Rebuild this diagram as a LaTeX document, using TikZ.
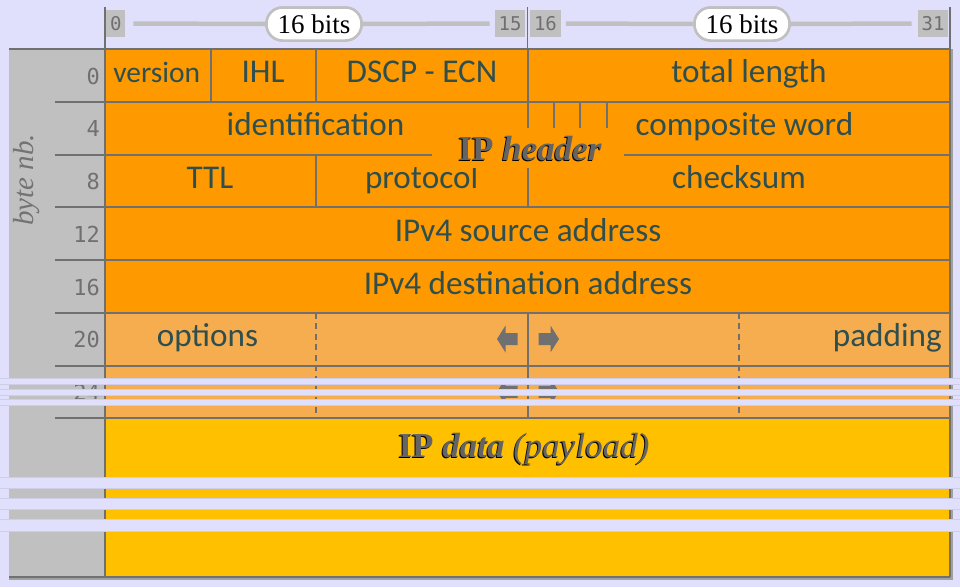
\documentclass[tikz,border=0pt]{standalone}
\usepackage{fontspec}
\setmainfont{Liberation Serif}
\newfontfamily\fieldfont{Carlito}
\newfontfamily\monofont{DejaVu Sans Mono}
\usetikzlibrary{calc}
\definecolor{bgc}{RGB}{224,224,252}
\definecolor{hdrc}{RGB}{255,153,0}
\definecolor{optc}{RGB}{245,173,80}
\definecolor{datac}{RGB}{255,192,0}
\definecolor{colc}{RGB}{192,192,192}
\definecolor{linec}{RGB}{112,112,112}
\definecolor{txtc}{RGB}{47,79,79}
\definecolor{titc}{RGB}{100,100,100}
\definecolor{shadowc}{RGB}{160,160,160}
\begin{document}
\begin{tikzpicture}[x=1pt,y=-1pt,
  grid/.style={draw=linec, line width=2pt},
  dgrid/.style={draw=linec, line width=2.2pt, dash pattern=on 6pt off 4.5pt},
  field/.style={font=\fieldfont\fontsize{33.2}{38}\selectfont, text=txtc, anchor=base, inner sep=0pt},
  rowlbl/.style={font=\monofont\fontsize{22}{26}\selectfont, text=linec, anchor=east, inner sep=0pt},
  bitlbl/.style={font=\monofont\fontsize{19}{22}\selectfont, text=linec, fill=colc, inner xsep=3.8pt, inner ysep=0pt, minimum height=27pt},
  pill/.style={draw=colc, line width=2.5pt, fill=white, rounded corners=16pt, minimum width=95pt, minimum height=33pt, inner sep=0pt, font=\fontsize{27}{30}\selectfont},
  bitline/.style={draw=colc, line width=4.5pt},
  stripe/.style={fill=bgc, draw=bgc!92!black, line width=0.6pt},
  title/.style={font=\fontsize{35}{40}\selectfont, anchor=base, inner sep=0pt},
  arrowshape/.style={fill=linec},
]
% background
\fill[bgc] (0,0) rectangle (960,587);
\useasboundingbox (0,0) rectangle (960,587);

% header bit lines
\draw[linec, line width=1.5pt] (105,7) -- (105,49);
\draw[linec, line width=1.5pt] (527.5,7) -- (527.5,49);
\draw[linec, line width=1.5pt] (950,7) -- (950,49);

\node[bitlbl, anchor=west] (b0) at (106,23.5) {0};
\node[bitlbl, anchor=east] (b15) at (525.5,23.5) {15};
\node[bitlbl, anchor=west] (b16) at (530,23.5) {16};
\node[bitlbl, anchor=east] (b31) at (948.5,23.5) {31};
\node[pill] (pillL) at (314,24) {16 bits};
\node[pill] (pillR) at (742,24) {16 bits};
\draw[bitline] ([xshift=8pt]b0.east) -- (pillL.west);
\draw[bitline] (pillL.east) -- ([xshift=-5pt]b15.west);
\draw[bitline] ([xshift=5pt]b16.east) -- (pillR.west);
\draw[bitline] (pillR.east) -- ([xshift=-6pt]b31.west);
\node[pill] (pillL2) at (314,24) {16 bits};
\node[pill] (pillR2) at (742,24) {16 bits};

% shadow and fills
\fill[shadowc] (9,49) rectangle (953,580);
\fill[colc] (9,49) rectangle (105,577);
\fill[hdrc] (105,49) rectangle (950,312.75);
\fill[optc] (105,312.75) rectangle (950,418.25);
\fill[datac] (105,418.25) rectangle (950,577);

% horizontal grid
\draw[grid] (9,49) -- (950,49);
\foreach \y in {101.75,154.5,207.25,260,312.75,365.5,418.25}
  \draw[grid] (55,\y) -- (950,\y);
\draw[grid] (9,577) -- (950,577);
% outer verticals
\draw[grid] (105,49) -- (105,577);
\draw[grid] (950,49) -- (950,577);
% field separators
\draw[grid] (210.6,49) -- (210.6,101.75);
\draw[grid] (316.25,49) -- (316.25,101.75);
\draw[grid] (527.5,49) -- (527.5,154.5);
\foreach \x in {553.9,580.3,606.7}
  \draw[grid] (\x,101.75) -- (\x,128);
\draw[grid] (316.25,154.5) -- (316.25,207.25);
\draw[grid] (527.5,154.5) -- (527.5,207.25);
\draw[grid] (527.5,312.75) -- (527.5,418.25);
\draw[dgrid] (316.25,312.75) -- (316.25,418.25);
\draw[dgrid] (738.75,312.75) -- (738.75,418.25);

% field texts
\node[field, font=\fieldfont\fontsize{29.5}{34}\selectfont] (fver) at (156.7,82.5) {version};
\node[field] (fihl) at (263,82.5) {IHL};
\node[field] (fdscp) at (422,82.5) {DSCP - ECN};
\node[field] (ftot) at (749,82.5) {total length};
\node[field] (fid) at (315.5,135.5) {identification};
\node[field] (fcomp) at (744.5,135.5) {composite word};
\node[field] (fttl) at (210,188.5) {TTL};
\node[field] (fproto) at (421.6,188.5) {protocol};
\node[field] (fchk) at (739,188.5) {checksum};
\node[field] (fsrc) at (528,241.5) {IPv4 source address};
\node[field] (fdst) at (528,294.5) {IPv4 destination address};
\node[field] (fopt) at (207.5,346.5) {options};
\node[field, anchor=base east] (fpad) at (942,346.5) {padding};

% arrows
\foreach \c in {339,391.75}{
  \fill[arrowshape] (497,\c) -- (505.5,\c-13.5) -- (505.5,\c-6) -- (517.5,\c-6) -- (517.5,\c+6) -- (505.5,\c+6) -- (505.5,\c+13.5) -- cycle;
  \fill[arrowshape] (559,\c) -- (550.5,\c-13.5) -- (550.5,\c-6) -- (538.5,\c-6) -- (538.5,\c+6) -- (550.5,\c+6) -- (550.5,\c+13.5) -- cycle;
}

% IP header label
\node[fill=hdrc, minimum width=192pt, minimum height=40pt, inner sep=0pt] (hdrbg) at (528,148) {};
\node[title, text=black] (hdrsh) at (529,161) {\bfseries IP \itshape header};
\node[title, text=titc] (hdr) at (530,160) {\bfseries IP \itshape header};

% IP data label
\node[title, text=black] (datash) at (523,458) {\textbf{IP} \textbf{\textit{data}} \textit{(payload)}};
\node[title, text=titc] (data) at (524,457) {\textbf{IP} \textbf{\textit{data}} \textit{(payload)}};

% row labels
\node[rowlbl] (r0) at (100,76) {0};
\node[rowlbl] (r4) at (100,128.75) {4};
\node[rowlbl] (r8) at (100,181.5) {8};
\node[rowlbl] (r12) at (100,234.25) {12};
\node[rowlbl] (r16) at (100,287) {16};
\node[rowlbl] (r20) at (100,339.75) {20};
\node[rowlbl] (r24) at (100,392.5) {24};
\node[rotate=90, text=colc!60!black, font=\fontsize{29}{32}\selectfont\itshape, inner sep=0pt] (bytenb) at (27,180) {byte nb.};

% break stripes
\foreach \a/\b in {378.5/384, 389/395, 399.3/405, 477/488, 498/509, 519/531}
  \path[stripe] (-1,\a) rectangle (961,\b);
\end{tikzpicture}
\end{document}
